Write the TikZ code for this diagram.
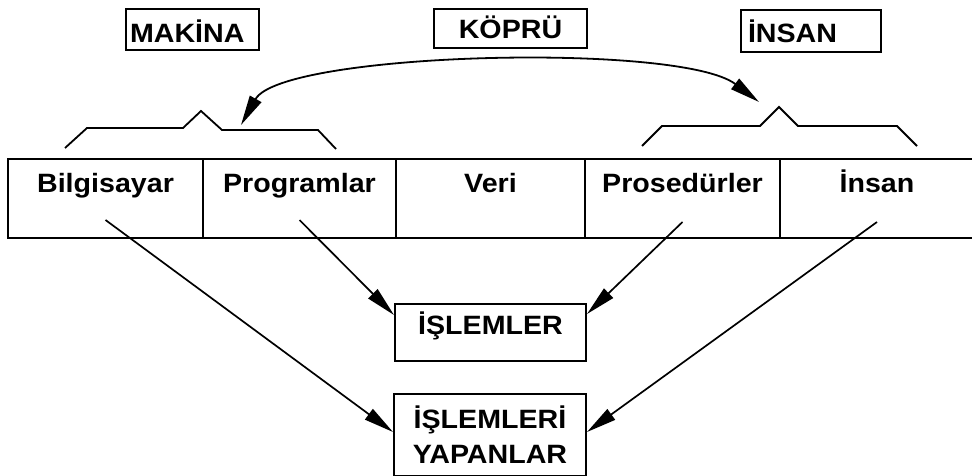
\documentclass[tikz,border=0pt]{standalone}
\usepackage{fontspec}
\setmainfont{Liberation Sans}[FakeStretch=1.08]
\usetikzlibrary{arrows.meta}
\begin{document}
\begin{tikzpicture}[x=1pt,y=-1pt,
  lbl/.style={font=\fontsize{26.5}{35}\selectfont\bfseries},
  boxed/.style={draw, line width=2pt, lbl, anchor=north west, inner xsep=0pt, inner ysep=0pt},
  cell/.style={boxed, text height=34pt, text depth=45pt},
  brace/.style={line width=1.8pt},
  conn/.style={line width=1.7pt, -{Triangle[length=30pt,width=13pt]}}]
\useasboundingbox (0,0) rectangle (972,476);
% top labels
\node[boxed, inner xsep=4pt, text width=125pt, align=left, text height=34pt, text depth=7pt] (makina) at (125,8) {MAKİNA};
\node[boxed, minimum width=153pt, text height=30pt, text depth=9pt] (kopru) at (433,8) {KÖPRÜ};
\node[boxed, inner xsep=7pt, text width=126pt, align=left, text height=33pt, text depth=9pt] (insanlbl) at (740,9) {İNSAN};
% main row
\node[cell, minimum width=195pt] (bilg) at (7,158) {Bilgisayar};
\node[cell, minimum width=193pt] (prog) at (202,158) {Programlar};
\node[cell, minimum width=189pt] (veri) at (395,158) {Veri};
\node[cell, minimum width=195pt] (pros) at (584,158) {Prosedürler};
\node[cell, minimum width=194pt] (insan) at (779,158) {İnsan};
% bottom boxes
\node[boxed, minimum width=191pt, text height=30pt, text depth=27pt] (islem) at (394,303) {İŞLEMLER};
\node[boxed, minimum width=192pt, minimum height=82pt, align=center] (yap) at (393,393) {İŞLEMLERİ\\YAPANLAR};
% braces
\draw[brace] (65,148) -- (87,128) -- (183,128) -- (201,111) -- (222,130) -- (318,130) -- (336,149);
\draw[brace] (642,146) -- (662,126) -- (760,126) -- (779,107) -- (798,126) -- (897,126) -- (917,146);
% bridge arrow
\coordinate (ka) at (241,125);
\coordinate (kb) at (759,102);
\draw[line width=1.8pt, {Triangle[length=30pt,width=13pt]}-{Triangle[length=30pt,width=13pt]}] (ka) .. controls (282,52) and (680,42) .. (kb);
% connectors
\draw[conn] ([yshift=-62pt]bilg.north) -- ([yshift=-39pt]yap.north west);
\draw[conn] ([yshift=-62pt]prog.north) -- ([yshift=-12pt]islem.north west);
\draw[conn] ([yshift=-64pt]pros.north) -- ([yshift=-11pt]islem.north east);
\draw[conn] ([yshift=-64pt]insan.north) -- ([yshift=-39pt]yap.north east);
\end{tikzpicture}
\end{document}
